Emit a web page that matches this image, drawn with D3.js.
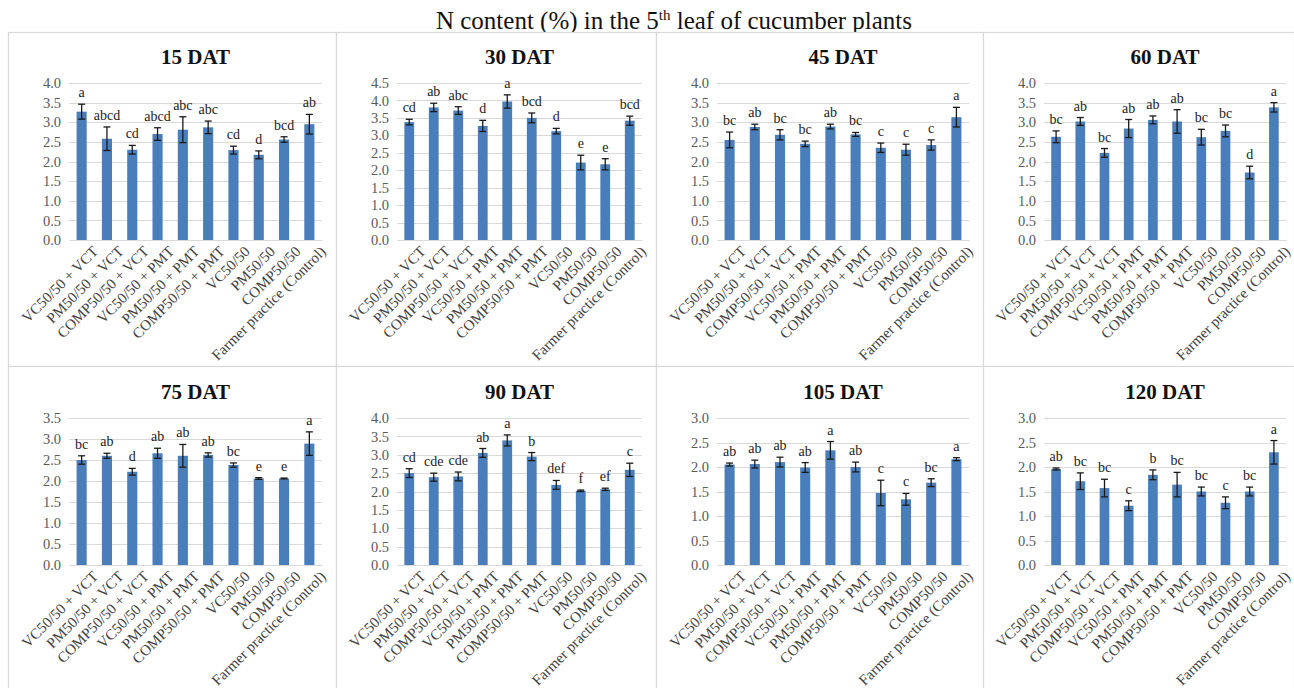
<!DOCTYPE html>
<html><head><meta charset="utf-8">
<script src="https://cdn.jsdelivr.net/npm/d3@7"></script>
<style>
body{margin:0;background:#fff;}
svg{display:block;}
svg text{font-family:'Liberation Serif','Times New Roman',serif;}
</style></head>
<body>
<svg id="chart" width="1294" height="688"></svg>
<script>
const categories = ["VC50/50 + VCT","PM50/50 + VCT","COMP50/50 + VCT","VC50/50 + PMT","PM50/50 + PMT","COMP50/50 + PMT","VC50/50","PM50/50","COMP50/50","Farmer practice (Control)"];
const titles = ["15 DAT","30 DAT","45 DAT","60 DAT","75 DAT","90 DAT","105 DAT","120 DAT"];
const yMaxes = [4.0, 4.5, 4.0, 4.0, 3.5, 4.0, 3.0, 3.0];

const means15 = [3.27,2.58,2.30,2.70,2.81,2.87,2.29,2.17,2.56,2.95];
const err15   = [0.19,0.30,0.11,0.16,0.33,0.16,0.10,0.10,0.07,0.25];
const let15   = ["a","abcd","cd","abcd","abc","abc","cd","d","bcd","ab"];

const means30 = [3.38,3.80,3.71,3.27,3.97,3.50,3.12,2.22,2.17,3.42];
const err30   = [0.08,0.12,0.11,0.16,0.19,0.14,0.08,0.21,0.16,0.13];
const let30   = ["cd","ab","abc","d","a","bcd","d","e","e","bcd"];

const means45 = [2.55,2.88,2.68,2.45,2.89,2.69,2.35,2.30,2.42,3.13];
const err45   = [0.20,0.07,0.13,0.07,0.06,0.05,0.12,0.14,0.13,0.25];
const let45   = ["bc","ab","bc","bc","ab","bc","c","c","c","a"];

const means60 = [2.63,3.02,2.22,2.84,3.06,3.02,2.62,2.78,1.72,3.38];
const err60   = [0.15,0.10,0.11,0.23,0.10,0.30,0.20,0.15,0.16,0.12];
const let60   = ["bc","ab","bc","ab","ab","ab","bc","bc","d","a"];

const means75 = [2.50,2.60,2.22,2.66,2.60,2.62,2.38,2.06,2.06,2.89];
const err75   = [0.10,0.06,0.08,0.12,0.27,0.05,0.05,0.02,0.01,0.28];
const let75   = ["bc","ab","d","ab","ab","ab","bc","e","e","a"];

const means90 = [2.50,2.39,2.41,3.05,3.39,2.95,2.18,2.02,2.06,2.59];
const err90   = [0.12,0.11,0.12,0.12,0.15,0.11,0.12,0.02,0.03,0.18];
const let90   = ["cd","cde","cde","ab","a","b","def","f","ef","c"];

const means105 = [2.05,2.06,2.10,1.99,2.34,2.00,1.47,1.34,1.68,2.16];
const err105   = [0.03,0.08,0.10,0.10,0.18,0.10,0.26,0.12,0.08,0.03];
const let105   = ["ab","ab","ab","ab","a","ab","c","c","bc","a"];

const means120 = [1.96,1.71,1.57,1.21,1.84,1.64,1.50,1.27,1.50,2.30];
const err120   = [0.02,0.17,0.18,0.10,0.10,0.25,0.09,0.12,0.09,0.24];
const let120   = ["ab","bc","bc","c","b","bc","bc","c","bc","a"];

const allMeans = [means15,means30,means45,means60,means75,means90,means105,means120];
const allErrs = [err15,err30,err45,err60,err75,err90,err105,err120];
const allLetters = [let15,let30,let45,let60,let75,let90,let105,let120];

const svg = d3.select("#chart");
const serif = "'Liberation Serif','Times New Roman',serif";

// main title
const mt = svg.append("text").attr("x", 674).attr("y", 29).attr("text-anchor","middle")
  .style("font-family", serif).attr("font-size", 25).attr("fill","#111");
mt.append("tspan").text("N content (%) in the 5");
mt.append("tspan").attr("font-size", 15).attr("dy", -9).text("th");
mt.append("tspan").attr("dy", 9).text(" leaf of cucumber plants");

const colX = [[8,336],[336,656],[656,983],[983,1294]];
const rowY = [[32,366],[366,690]];
const plotV = [[83,240],[418,565]];

titles.forEach((t, i) => {
  const c = i % 4, r = Math.floor(i / 4);
  const [x0, x1] = colX[c];
  const [y0, y1] = rowY[r];
  const g = svg.append("g");
  g.append("rect").attr("x", x0 + 0.5).attr("y", y0 + 0.5).attr("width", x1 - x0).attr("height", y1 - y0)
    .attr("fill", "#fff").attr("stroke", "#d9d9d9").attr("stroke-width", 1.2);

  const left = x0 + 61, right = x1 - (c === 3 ? 8 : 14);
  const [top, bottom] = plotV[r];
  const x = d3.scaleBand().domain(categories).range([left, right]).paddingInner(0.6).paddingOuter(0.3);
  const y = d3.scaleLinear().domain([0, yMaxes[i]]).range([bottom, top]);
  const ticks = d3.range(0, yMaxes[i] + 0.001, 0.5);

  // gridlines
  g.append("g").selectAll("line").data(ticks.filter(v => v > 0)).join("line")
    .attr("x1", left).attr("x2", right).attr("y1", d => Math.round(y(d)) + 0.5).attr("y2", d => Math.round(y(d)) + 0.5)
    .attr("stroke", "#d9d9d9").attr("stroke-width", 1);

  // y axis
  const ya = g.append("g").attr("transform", `translate(${left},0)`)
    .call(d3.axisLeft(y).tickValues(ticks).tickFormat(d3.format(".1f")).tickSize(0).tickPadding(8));
  ya.attr("font-family", null);
  ya.select(".domain").remove();
  ya.selectAll("text").style("font-family", serif).attr("font-size", 14.5).attr("fill", "#595959");

  // x axis
  const xa = g.append("g").attr("transform", `translate(0,${bottom})`)
    .call(d3.axisBottom(x).tickSize(0).tickPadding(0));
  xa.attr("font-family", null);
  xa.select(".domain").attr("stroke", "#d9d9d9");
  xa.selectAll("text").style("font-family", serif).attr("font-size", 15).attr("fill", "#404040")
    .attr("text-anchor", "end").attr("dy", 0)
    .attr("transform", d => `translate(${x.bandwidth()/2 + 5},${5}) rotate(-45)`)
    .attr("x", 0).attr("y", 0).attr("dominant-baseline", "hanging");

  // title
  g.append("text").attr("x", (left + right) / 2).attr("y", r === 0 ? 64 : 399)
    .attr("text-anchor", "middle").style("font-family", serif).attr("font-weight", "bold")
    .attr("font-size", 21).attr("fill", "#111").text(t);

  const data = categories.map((cat, k) => ({cat, m: allMeans[i][k], e: allErrs[i][k], l: allLetters[i][k]}));

  g.append("g").selectAll("rect").data(data).join("rect")
    .attr("x", d => x(d.cat)).attr("width", x.bandwidth())
    .attr("y", d => y(d.m)).attr("height", d => bottom - y(d.m))
    .attr("fill", "#4a7ebb");

  const eb = g.append("g").attr("stroke", "#1a1a1a").attr("stroke-width", 1.3);
  const cx = d => x(d.cat) + x.bandwidth() / 2;
  eb.selectAll(".v").data(data).join("line")
    .attr("x1", cx).attr("x2", cx).attr("y1", d => y(d.m + d.e)).attr("y2", d => y(d.m - d.e));
  eb.selectAll(".t").data(data).join("line")
    .attr("x1", d => cx(d) - 3.5).attr("x2", d => cx(d) + 3.5).attr("y1", d => y(d.m + d.e)).attr("y2", d => y(d.m + d.e));
  eb.selectAll(".b").data(data).join("line")
    .attr("x1", d => cx(d) - 3.5).attr("x2", d => cx(d) + 3.5).attr("y1", d => y(d.m - d.e)).attr("y2", d => y(d.m - d.e));

  g.append("g").selectAll("text").data(data).join("text")
    .attr("x", cx).attr("y", d => y(d.m + d.e) - 7)
    .attr("text-anchor", "middle").style("font-family", serif).attr("font-size", 14).attr("fill", "#222")
    .text(d => d.l);
});
</script>
</body></html>
